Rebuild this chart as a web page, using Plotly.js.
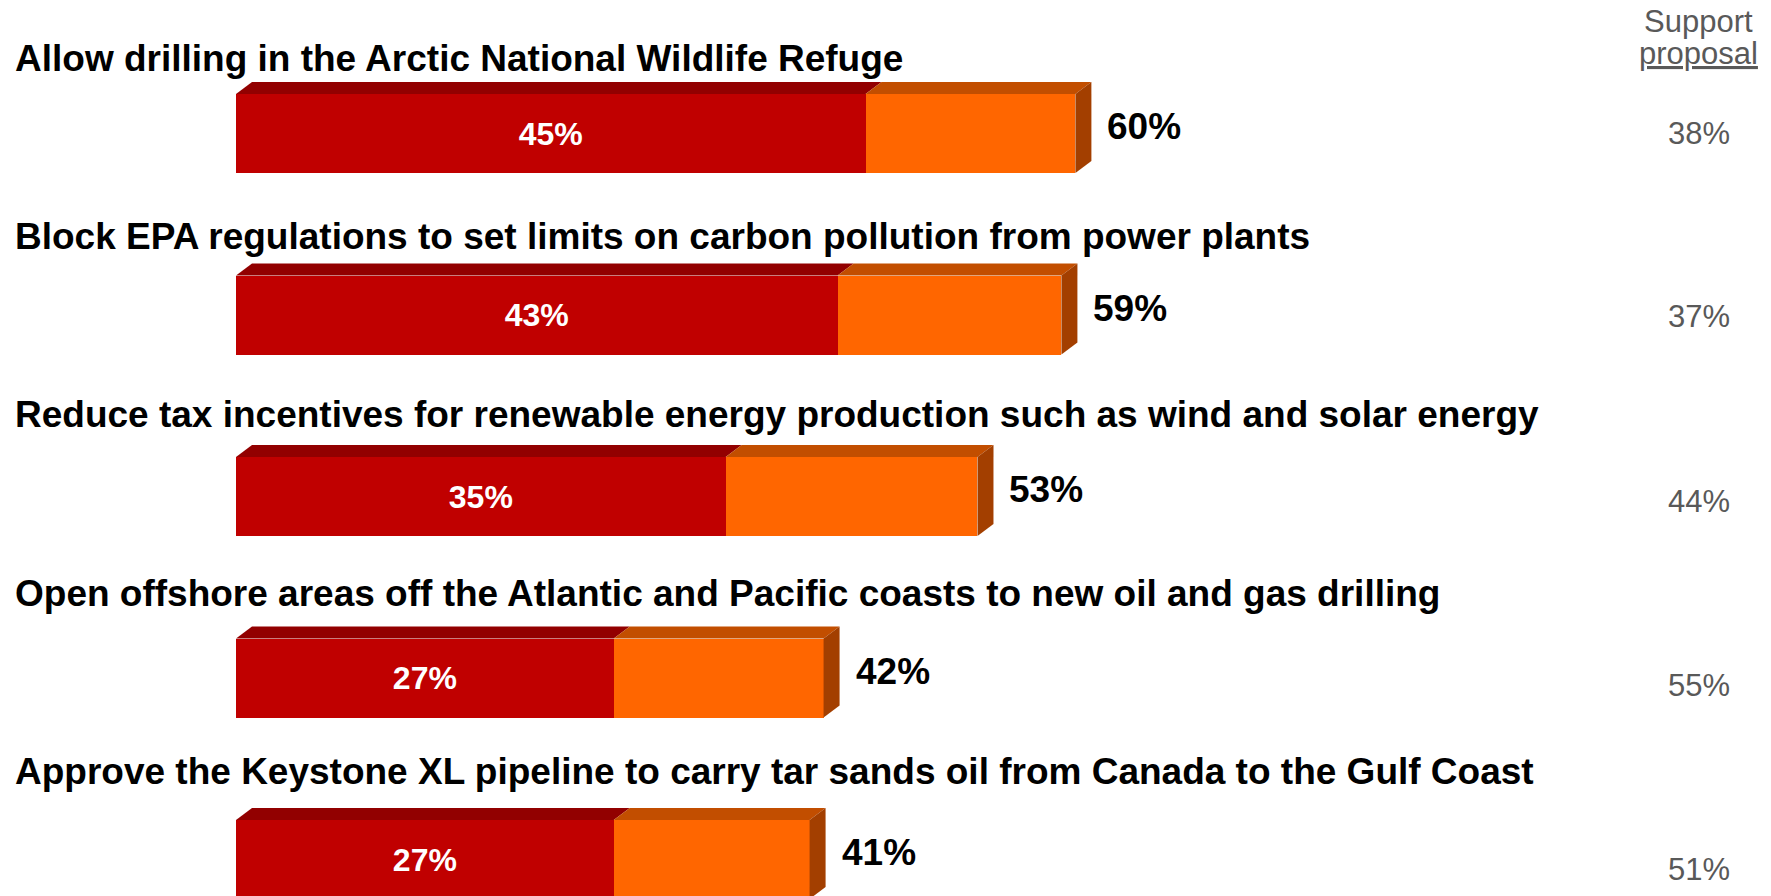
<!DOCTYPE html>
<html>
<head>
<meta charset="utf-8">
<script src="https://cdn.plot.ly/plotly-3.0.1.min.js"></script>
<style>
  html, body { margin: 0; padding: 0; background: #ffffff; }
  #chart { width: 1771px; height: 896px; }
</style>
</head>
<body>
<div id="chart"></div>
<script>
// ---- data ----
const categories = [
  "Allow drilling in the Arctic National Wildlife Refuge",
  "Block EPA regulations to set limits on carbon pollution from power plants",
  "Reduce tax incentives for renewable energy production such as wind and solar energy",
  "Open offshore areas off the Atlantic and Pacific coasts to new oil and gas drilling",
  "Approve the Keystone XL pipeline to carry tar sands oil from Canada to the Gulf Coast"
];
const strongValues = [45, 43, 35, 27, 27];   // dark red segment
const totalValues  = [60, 59, 53, 42, 41];   // total (red + orange)
const supportValues = [38, 37, 44, 55, 51];  // right column "Support proposal"
const supportHeader = ["Support", "proposal"];

// ---- layout constants ----
const W = 1771, H = 896;
const marginL = 236;
const pxPerPct = 13.99;
const xMax = (W - marginL) / pxPerPct;
const rowPitch = 181.5;          // px between bar centres
const firstCenter = 133.5;       // px of first bar centre
const yTop = -firstCenter / rowPitch;
const yBottom = (H - firstCenter) / rowPitch;
const barWidth = 79 / rowPitch;
const depthX = 16 / pxPerPct;    // 3D depth in data units
const depthY = 12 / rowPitch;

const colors = {
  redFront: "#C00000", redTop: "#920000",
  orangeFront: "#FF6600", orangeTop: "#C24E00", side: "#A33F00"
};
const FONT = "Liberation Sans, Arial, Helvetica, sans-serif";

const idx = categories.map((_, i) => i);
const restValues = totalValues.map((t, i) => t - strongValues[i]);

const traces = [
  {
    type: "bar", orientation: "h", y: idx, x: strongValues,
    width: barWidth, marker: { color: colors.redFront, line: { width: 0 } },
    text: strongValues.map(v => v + "%"), textposition: "inside",
    insidetextanchor: "middle", textangle: 0,
    textfont: { family: FONT, size: 32, color: "#ffffff", weight: "bold" },
    hoverinfo: "skip"
  },
  {
    type: "bar", orientation: "h", y: idx, x: restValues,
    width: barWidth, marker: { color: colors.orangeFront, line: { width: 0 } },
    hoverinfo: "skip"
  }
];

const shapes = [];
idx.forEach(i => {
  const top = i - barWidth / 2, bot = i + barWidth / 2;
  const s = strongValues[i], t = totalValues[i];
  const face = (x0, x1, col) => ({
    type: "path", xref: "x", yref: "y", line: { width: 0 }, fillcolor: col,
    path: `M${x0},${top} L${x0 + depthX},${top - depthY} L${x1 + depthX},${top - depthY} L${x1},${top} Z`
  });
  shapes.push(face(0, s, colors.redTop));
  shapes.push(face(s, t, colors.orangeTop));
  shapes.push({
    type: "path", xref: "x", yref: "y", line: { width: 0 }, fillcolor: colors.side,
    path: `M${t},${top} L${t + depthX},${top - depthY} L${t + depthX},${bot - depthY} L${t},${bot} Z`
  });
});

const annotations = [];
// category titles
idx.forEach(i => {
  annotations.push({
    xref: "paper", yref: "paper",
    x: (13 - marginL) / (W - marginL), xanchor: "left",
    y: 1 - (58.5 + 178.25 * i) / H, yanchor: "middle",
    text: "<b>" + categories[i] + "</b>", showarrow: false,
    font: { family: FONT, size: 37, color: "#000000" }
  });
});
// total labels
idx.forEach(i => {
  annotations.push({
    xref: "x", yref: "y", x: totalValues[i], y: i,
    xanchor: "left", yanchor: "middle", xshift: 30, yshift: 7,
    text: "<b>" + totalValues[i] + "%</b>", showarrow: false,
    font: { family: FONT, size: 37, color: "#000000" }
  });
});
// right column
const rightX = (1698.5 - marginL) / (W - marginL);
annotations.push({
  xref: "paper", yref: "paper", x: rightX, xanchor: "center",
  y: 1 - 22 / H, yanchor: "middle", text: supportHeader[0], showarrow: false,
  font: { family: FONT, size: 31, color: "#595959" }
});
annotations.push({
  xref: "paper", yref: "paper", x: rightX, xanchor: "center",
  y: 1 - 54 / H, yanchor: "middle", text: supportHeader[1], showarrow: false,
  font: { family: FONT, size: 31, color: "#595959", lineposition: "under" }
});
idx.forEach(i => {
  annotations.push({
    xref: "paper", yref: "paper", x: rightX, xanchor: "center",
    y: 1 - (133 + 184 * i) / H, yanchor: "middle",
    text: supportValues[i] + "%", showarrow: false,
    font: { family: FONT, size: 31, color: "#595959" }
  });
});

const layout = {
  width: W, height: H,
  margin: { l: marginL, r: 0, t: 0, b: 0, pad: 0 },
  paper_bgcolor: "#ffffff", plot_bgcolor: "#ffffff",
  barmode: "stack", showlegend: false,
  xaxis: { range: [0, xMax], visible: false, fixedrange: true },
  yaxis: { range: [yBottom, yTop], visible: false, fixedrange: true },
  shapes: shapes, annotations: annotations,
  font: { family: FONT }
};

Plotly.newPlot("chart", traces, layout, { displayModeBar: false, staticPlot: true });
</script>
</body>
</html>
